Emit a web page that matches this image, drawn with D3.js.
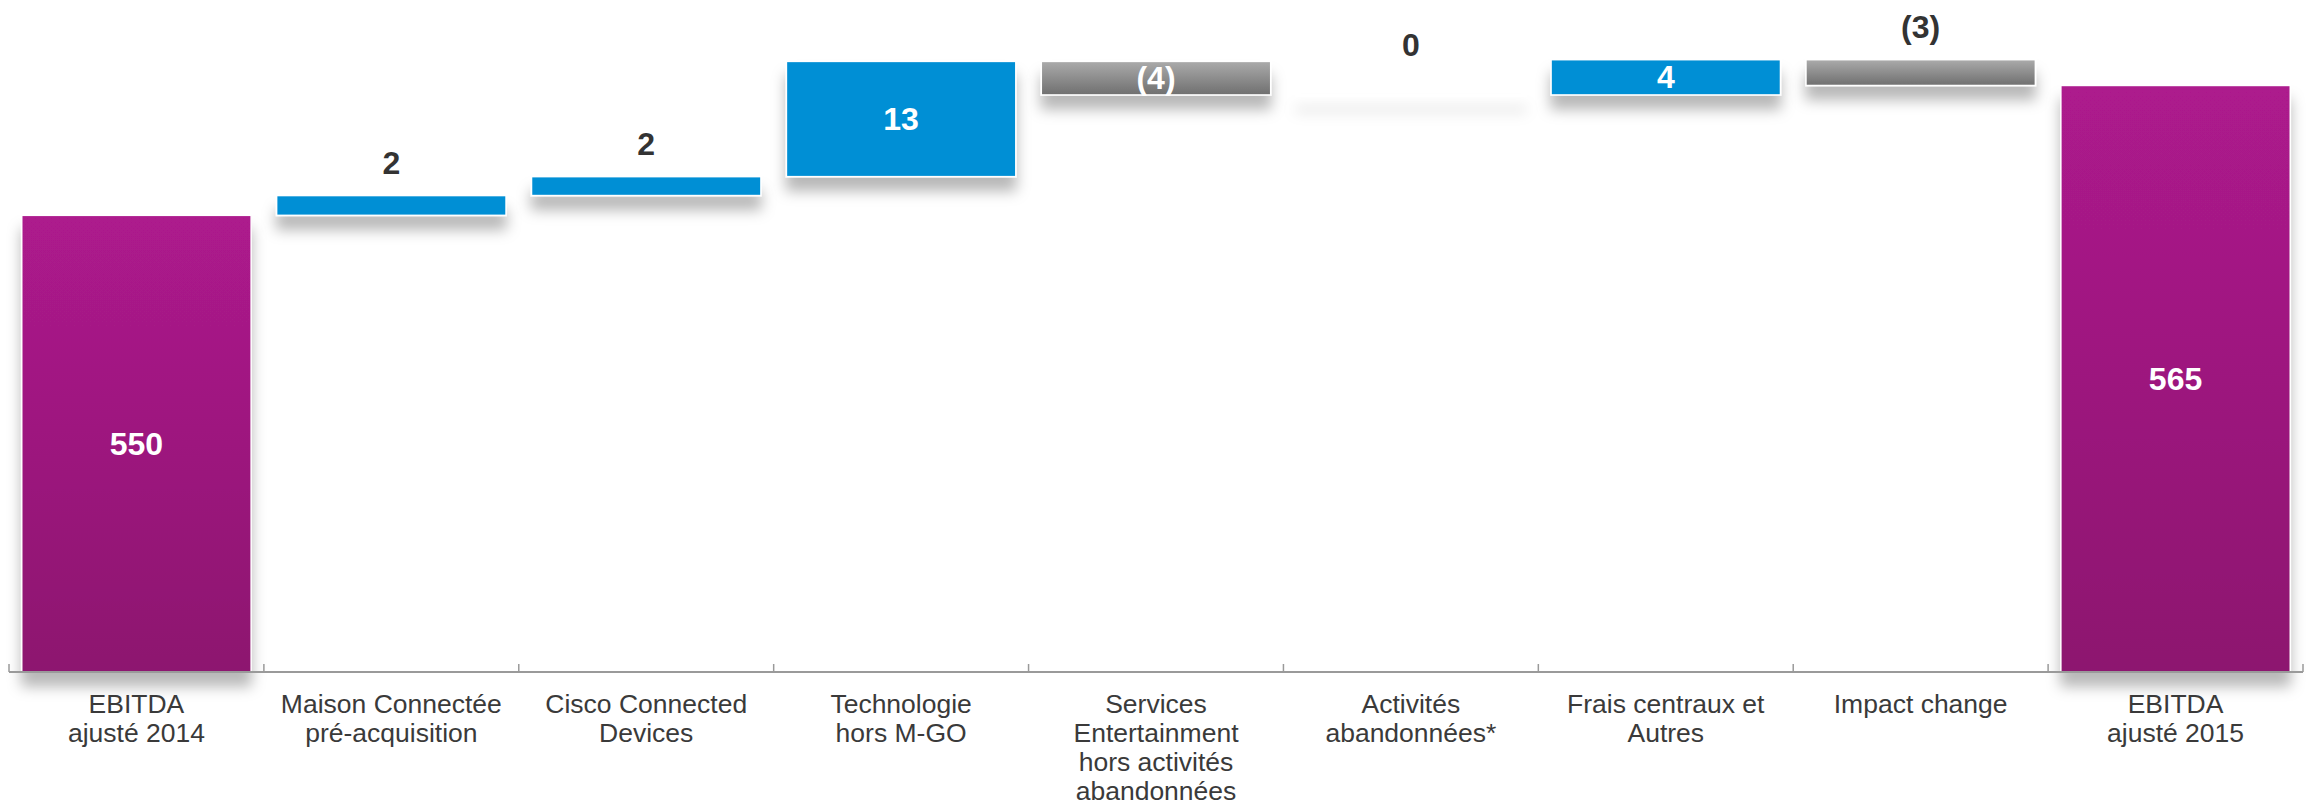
<!DOCTYPE html>
<html>
<head>
<meta charset="utf-8">
<script src="https://cdnjs.cloudflare.com/ajax/libs/d3/7.8.5/d3.min.js"></script>
<style>
  html, body { margin: 0; padding: 0; background: #fff; }
  svg { display: block; font-family: "Liberation Sans", Arial, Helvetica, sans-serif; }
</style>
</head>
<body>
<svg id="chart" width="2311" height="809"></svg>
<script>
// categories (multi-line labels)
var CATEGORIES = [
  ['EBITDA', 'ajusté 2014'],
  ['Maison Connectée', 'pré-acquisition'],
  ['Cisco Connected', 'Devices'],
  ['Technologie', 'hors M-GO'],
  ['Services', 'Entertainment', 'hors activités', 'abandonnées'],
  ['Activités', 'abandonnées*'],
  ['Frais centraux et', 'Autres'],
  ['Impact change'],
  ['EBITDA', 'ajusté 2015']
];
// bar values (totals for first/last, changes in between)
var VALUES = [550.3, 2.3, 2.2, 13.4, -3.9, 0.0, 4.1, -3.0, 565.4];
var KINDS = ['total', 'delta', 'delta', 'delta', 'delta', 'delta', 'delta', 'delta', 'total'];
// labels printed on the chart
var LABELS = ['550', '2', '2', '13', '(4)', '0', '4', '(3)', '565'];

var svg = d3.select('#chart');

var defs = svg.append('defs');
var purple = defs.append('linearGradient').attr('id', 'gPurple')
    .attr('x1', 0).attr('y1', 0).attr('x2', 0).attr('y2', 1);
purple.append('stop').attr('offset', '0%').attr('stop-color', '#ad1a8d');
purple.append('stop').attr('offset', '100%').attr('stop-color', '#8d166f');
var grey = defs.append('linearGradient').attr('id', 'gGrey')
    .attr('x1', 0).attr('y1', 0).attr('x2', 0).attr('y2', 1);
grey.append('stop').attr('offset', '0%').attr('stop-color', '#ababab');
grey.append('stop').attr('offset', '100%').attr('stop-color', '#6f6f6f');
var shadow = defs.append('filter').attr('id', 'shadow')
    .attr('filterUnits', 'userSpaceOnUse')
    .attr('x', 0).attr('y', 0).attr('width', 2311).attr('height', 809);
shadow.append('feDropShadow').attr('dx', 0).attr('dy', 14).attr('stdDeviation', 7)
    .attr('flood-color', '#000').attr('flood-opacity', 0.28);

var axisY = 672;
var x = d3.scaleBand()
    .domain(d3.range(CATEGORIES.length))
    .range([9, 2303])
    .paddingInner(0.1)
    .paddingOuter(0.05);
var y = d3.scaleLinear()
    .domain([497.2, 575])
    .range([axisY, axisY - (575 - 497.2) * 8.6]);

// running totals for the waterfall
var bars = [];
var level = 0;
VALUES.forEach(function(v, i) {
  if (KINDS[i] === 'total') {
    bars.push({ i: i, y0: y.domain()[0], y1: v, v: v });
    level = v;
  } else {
    bars.push({ i: i, y0: level, y1: level + v, v: v });
    level += v;
  }
});

function fillFor(d) {
  if (KINDS[d.i] === 'total') return 'url(#gPurple)';
  if (d.v < 0) return 'url(#gGrey)';
  if (d.v === 0) return '#ffffff';
  return '#008fd5';
}
function barH(d) { return Math.abs(y(d.y0) - y(d.y1)); }

svg.append('g').selectAll('rect')
    .data(bars)
    .enter()
    .append('rect')
      .attr('x', function(d) { return x(d.i); })
      .attr('width', x.bandwidth())
      .attr('y', function(d) { return y(Math.max(d.y0, d.y1)); })
      .attr('height', function(d) { return Math.max(1, barH(d)); })
      .attr('fill', fillFor)
      .attr('stroke', '#fff')
      .attr('stroke-width', 1.5)
      .attr('filter', 'url(#shadow)');

// axis with ticks at band boundaries
var step = x.step();
var ax = svg.append('g');
ax.append('line')
    .attr('x1', x.range()[0]).attr('x2', x.range()[1])
    .attr('y1', axisY).attr('y2', axisY)
    .attr('stroke', '#9a9a9a').attr('stroke-width', 2);
ax.selectAll('.tick')
    .data(d3.range(CATEGORIES.length + 1))
    .enter()
    .append('line')
      .attr('x1', function(d) { return x.range()[0] + d * step; })
      .attr('x2', function(d) { return x.range()[0] + d * step; })
      .attr('y1', axisY).attr('y2', axisY - 8)
      .attr('stroke', '#9a9a9a').attr('stroke-width', 1.5);

// value labels
svg.append('g').selectAll('text')
    .data(bars)
    .enter()
    .append('text')
      .attr('x', function(d) { return x(d.i) + x.bandwidth() / 2; })
      .attr('y', function(d) {
        var top = y(Math.max(d.y0, d.y1));
        var h = barH(d);
        if (h > 30) return top + h / 2 + 11;
        return top - (h < 1 ? 39 : 22);
      })
      .attr('text-anchor', 'middle')
      .attr('font-size', 32)
      .attr('font-weight', 'bold')
      .attr('fill', function(d) { return barH(d) > 30 ? '#fff' : '#333'; })
      .text(function(d) { return LABELS[d.i]; });

// category labels
var cats = svg.append('g').selectAll('text')
    .data(CATEGORIES)
    .enter()
    .append('text')
      .attr('text-anchor', 'middle')
      .attr('font-size', 26.5)
      .attr('fill', '#3a3a3a')
      .attr('transform', function(d, i) {
        return 'translate(' + (x(i) + x.bandwidth() / 2) + ',' + (axisY + 41) + ')';
      });
cats.selectAll('tspan')
    .data(function(d) { return d; })
    .enter()
    .append('tspan')
      .attr('x', 0)
      .attr('dy', function(d, j) { return j === 0 ? 0 : 29; })
      .text(function(d) { return d; });
</script>
</body>
</html>
